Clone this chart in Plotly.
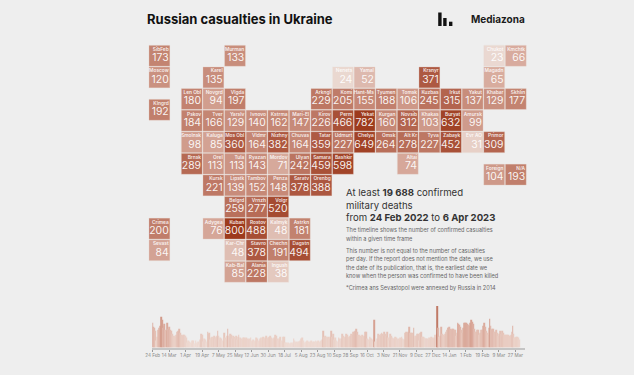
import pandas as pd
import plotly.graph_objects as go

W, H = 634, 375
BG = "#eeeeee"
FONT = "Inter"

regions = ["SibFeb","Moscow","Klngrd","Crimea","Sevast",
    "Murman","Chukot","Kmchtk",
    "Karel","Nenets","Yamal","Krsnyr","Magadn",
    "Len Obl","Novgrd","Vlgda","Arkngl","Komi","Hant-Ms","Tyumen","Tomsk","Kuzbas","Irkut","Yakut","Khabar","Skhlin",
    "Pskov","Tver","Yarslv","Ivnovo","Kstrma","Mari-El","Kirov","Perm","Yekat","Kurgan","Novsib","Khakas","Buryat","Amursk",
    "Smolnsk","Kaluga","Mos Obl","Vldmr","Nizhny","Chuvas","Tatar","Udmurt","Chelya","Omsk","Alt Kr","Tyva","Zabayk","Evr AO","Primor",
    "Brnsk","Orel","Tula","Ryazan","Mordov","Ulyan","Samara","Bashkir","Altai",
    "Kursk","Lipstk","Tambov","Penza","Saratv","Orenbg",
    "Belgrd","Vrnzh","Volgr",
    "Adygea","Kuban","Rostov","Kalmyk","Astrkn",
    "Kar-Chr","Stavro","Chechn","Dagstn",
    "Kab-Bal","Alania","Ingush",
    "Foreign","N/A"]
deaths = [173,120,192,200,84,
    133,23,66,
    135,24,52,371,65,
    180,94,197,229,205,155,188,106,245,315,137,129,177,
    184,166,129,140,162,147,226,466,782,160,312,103,632,99,
    98,85,360,164,382,164,359,227,649,264,278,227,452,31,309,
    289,113,113,143,71,242,459,598,74,
    221,139,152,148,378,388,
    259,277,520,
    76,800,488,48,181,
    48,378,191,494,
    85,228,38,
    104,193]
cols = [-1.5,-1.5,-1.5,-1.5,-1.5,
    2,14,15,
    1,7,8,11,14,
    0,1,2,6,7,8,9,10,11,12,13,14,15,
    0,1,2,3,4,5,6,7,8,9,10,11,12,13,
    0,1,2,3,4,5,6,7,8,9,10,11,12,13,14,
    0,1,2,3,4,5,6,7,10,
    1,2,3,4,5,6,
    2,3,4,
    1,2,3,4,5,
    2,3,4,5,
    2,3,4,
    14,15]
rows = [0,1,2.5,8,9,
    0,0,0,
    1,1,1,1,1,
    2,2,2,2,2,2,2,2,2,2,2,2,2,
    3,3,3,3,3,3,3,3,3,3,3,3,3,3,
    4,4,4,4,4,4,4,4,4,4,4,4,4,4,4,
    5,5,5,5,5,5,5,5,5,
    6,6,6,6,6,6,
    7,7,7,
    8,8,8,8,8,
    9,9,9,9,
    10,10,10,
    5.5,5.5]

daily_deaths = [
    150,126,120,102,42,66,108,120,132,186,
    168,120,132,144,108,102,150,114,126,108,
    102,84,72,66,72,66,78,96,102,114,
    90,78,72,78,78,78,72,60,30,42,
    36,30,24,42,42,24,18,42,30,24,
    36,18,48,84,78,36,54,48,30,36,
    96,84,90,48,60,66,60,72,54,66,
    72,102,72,48,60,54,42,36,90,60,
    48,72,114,72,60,84,78,54,72,66,
    54,72,48,66,78,36,60,54,48,60,
    60,54,60,54,48,54,48,60,36,42,
    48,36,42,60,54,36,42,54,60,42,
    60,66,54,60,72,54,60,66,72,60,
    54,36,54,60,78,72,54,42,54,66,
    42,36,66,66,66,30,30,24,30,24,
    24,30,24,30,54,42,30,36,30,36,
    36,42,54,60,42,36,30,24,36,42,
    36,30,36,42,30,36,36,30,42,36,
    36,42,30,36,42,48,102,66,72,66,
    66,60,66,54,66,102,66,84,48,60,
    42,36,36,60,54,36,54,84,72,60,
    66,84,78,72,60,66,72,84,78,96,
    96,102,114,96,78,72,78,72,66,78,
    66,72,96,96,54,48,36,66,60,54,
    48,36,168,36,36,54,84,78,72,84,
    90,84,72,96,84,72,96,60,42,84,
    72,54,60,54,54,66,60,48,54,48,
    60,54,66,54,48,48,90,96,90,96,
    126,90,90,90,84,120,60,72,72,84,
    84,42,90,96,66,66,60,60,54,54,
    54,48,60,54,66,60,54,60,78,78,
    84,252,120,66,72,126,84,78,72,84,
    96,108,120,120,126,114,108,114,114,108,
    108,72,90,150,144,138,126,108,90,120,
    150,150,150,144,138,138,132,150,168,156,
    144,114,96,96,108,108,78,84,90,108,
    108,132,150,126,102,90,78,120,174,132,
    108,114,114,96,96,108,90,72,84,102,
    84,66,102,90,78,78,78,78,78,72,
    72,78,96,132,84,60,60,66,66,60,
    48,0,0,0,0,0,0]
first_day = "2022-02-24"
last_day = "2023-04-06"
tick_every_days = 18

tile_scale = [[0,"#f0e2dc"],[0.03,"#ead8d0"],[0.08,"#d8ac9f"],[0.15,"#ca9180"],
              [0.25,"#c07d6a"],[0.45,"#ae5a43"],[0.7,"#a3472c"],[1,"#9d3a1c"]]
bar_scale = [[0,"#f1e3de"],[0.3,"#e9cdc3"],[0.6,"#daa99b"],[1,"#c07a66"]]

CELL = 21.6
ORIGIN_X, ORIGIN_Y = 181 + CELL/2, 45 + CELL/2

def xpaper(px): return px / W
def ypaper(py): return 1 - py / H

days = pd.date_range(first_day, periods=len(daily_deaths))
ticks = pd.date_range(first_day, last_day, freq=f"{tick_every_days}D")

fig = go.Figure()
fig.add_trace(go.Scatter(x=cols, y=rows, mode="markers", hoverinfo="skip", showlegend=False,
    marker=dict(symbol="square", size=20.9, color=deaths, cmin=0, cmax=800, colorscale=tile_scale,
                line=dict(color="rgba(238,225,220,0.4)", width=0.7))))
fig.add_trace(go.Scatter(x=[c + 0.43 for c in cols], y=[r - 0.29 for r in rows], mode="text",
    text=regions, textposition="middle left", hoverinfo="skip", showlegend=False,
    textfont=dict(family=FONT, size=4.8, color="rgba(255,255,255,0.88)", weight=600)))
fig.add_trace(go.Scatter(x=[c + 0.43 for c in cols], y=[r + 0.13 for r in rows], mode="text",
    text=[str(v) for v in deaths], textposition="middle left", hoverinfo="skip", showlegend=False,
    textfont=dict(family=FONT, size=10.4, color="rgba(255,255,255,0.92)")))
fig.add_trace(go.Bar(x=days, y=daily_deaths, xaxis="x2", yaxis="y2", hoverinfo="skip", showlegend=False,
    marker=dict(color=daily_deaths, cmin=0, cmax=252, colorscale=bar_scale, line_width=0)))

texts = [
    ("<b>Russian casualties in Ukraine</b>", 144.5, 19, 13, "#111111"),
    ("<b>Mediazona</b>", 468.5, 19, 10, "#1a1a1a"),
    ("At least <b>19 688</b> confirmed", 344, 192, 9.6, "#333333"),
    ("military deaths", 344, 205, 9.6, "#333333"),
    ("from <b>24 Feb 2022</b> to <b>6 Apr 2023</b>", 344, 217, 9.6, "#333333"),
    ("The timeline shows the number of confirmed casualties", 344, 230, 5.6, "#666666"),
    ("within a given time frame", 344, 238.5, 5.6, "#666666"),
    ("This number is not equal to the number of casualties", 344, 250.5, 5.6, "#666666"),
    ("per day. If the report does not mention the date, we use", 344, 259, 5.6, "#666666"),
    ("the date of its publication, that is, the earliest date we", 344, 267.5, 5.6, "#666666"),
    ("know when the person was confirmed to have been killed", 344, 275.5, 5.6, "#666666"),
    ("*Crimea ans Sevastopol were annexed by Russia in 2014", 344, 287.5, 5.6, "#666666"),
]
annotations = [dict(text=t, x=xpaper(x), y=ypaper(y), xref="paper", yref="paper", xanchor="left",
                    yanchor="middle", showarrow=False, align="left",
                    font=dict(family=FONT, size=s, color=c)) for t, x, y, s, c in texts]

logo_shapes = [dict(type="rect", xref="paper", yref="paper", x0=xpaper(a), x1=xpaper(b),
                    y0=ypaper(26), y1=ypaper(t), fillcolor="#111111", line_width=0)
               for a, b, t in [(438.2,441.6,12.5),(443.2,446.6,18),(449,452.4,21.7)]]

fig.update_layout(
    width=W, height=H, margin=dict(l=0, r=0, t=0, b=0, autoexpand=False), paper_bgcolor=BG, plot_bgcolor=BG,
    bargap=0.12, annotations=annotations, shapes=logo_shapes, font=dict(family=FONT),
    xaxis=dict(domain=[0,1], range=[-ORIGIN_X/CELL, (W-ORIGIN_X)/CELL], visible=False, fixedrange=True),
    yaxis=dict(domain=[0,1], range=[(H-ORIGIN_Y)/CELL, -ORIGIN_Y/CELL], visible=False, fixedrange=True),
    xaxis2=dict(anchor="y2", domain=[xpaper(152.2), xpaper(525)], type="date",
                range=[pd.Timestamp(first_day) - pd.Timedelta(hours=12), pd.Timestamp(last_day) + pd.Timedelta(hours=12)],
                tickmode="array", tickvals=list(ticks), ticktext=[f"{d.day} {d:%b}" for d in ticks],
                tickfont=dict(family=FONT, size=4.6, color="#888888"), ticks="outside", ticklen=2, tickwidth=1,
                tickcolor="#999999", showline=True, linecolor="#c4c4c4", linewidth=2, showgrid=False,
                zeroline=False, tickangle=0, fixedrange=True),
    yaxis2=dict(anchor="x2", domain=[ypaper(347.5), ypaper(306)], range=[0, 252], visible=False, fixedrange=True),
)
fig.write_html("out.html", post_script="document.body.style.margin='0';document.documentElement.style.overflow='hidden';",
               config={"displayModeBar": False})
